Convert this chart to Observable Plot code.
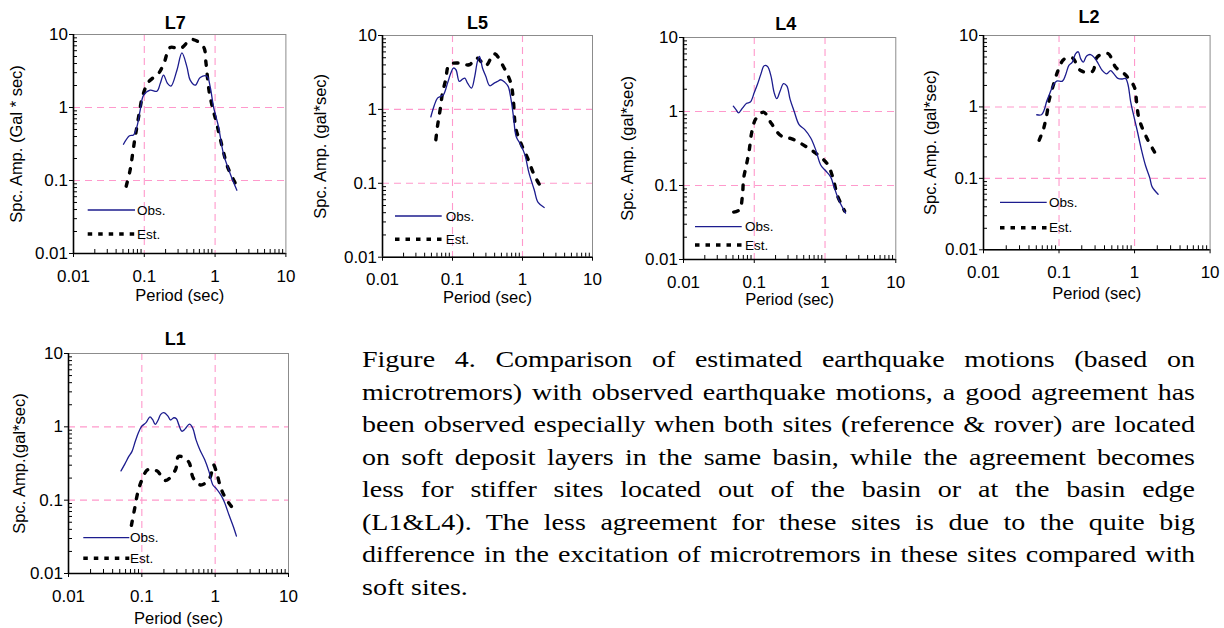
<!DOCTYPE html>
<html><head><meta charset="utf-8">
<script src="https://cdn.jsdelivr.net/npm/d3@7"></script>
<script src="https://cdn.jsdelivr.net/npm/@observablehq/plot@0.6"></script>
<style>
html,body{margin:0;padding:0;background:#fff}
body{width:1224px;height:628px;position:relative;overflow:hidden;font-family:"Liberation Sans",Arial,sans-serif}
.panel{position:absolute}
.panel svg{overflow:visible;background:transparent}
#overlay{position:absolute;left:0;top:0;pointer-events:none}
#caption{position:absolute;left:362px;top:344px;width:833px;font-family:"Liberation Serif","Times New Roman",serif;font-size:28px;line-height:32.5px;color:#000}
#caption div{text-align:justify;text-align-last:justify;white-space:nowrap;transform:scaleY(0.8);transform-origin:50% 50%}
#caption div.last{text-align:left;text-align-last:left}
</style>
</head><body>
<div id="caption"></div>
<script>
// ---------- tick values / labels ----------
const periodTicks = [0.01, 0.1, 1, 10];
const periodTickLabels = ["0.01", "0.1", "1", "10"];
const ampTicks = [0.01, 0.1, 1, 10];
const ampTickLabels = ["0.01", "0.1", "1", "10"];
const gridValues = [0.1, 1];
const seriesNames = ["Obs.", "Est."];
const panelTitles = ["L7", "L5", "L4", "L2", "L1"];
const yLabels = ["Spc. Amp. (Gal * sec)", "Spc. Amp. (gal*sec)", "Spc. Amp. (gal*sec)", "Spc. Amp. (gal*sec)", "Spc. Amp.(gal*sec)"];
const xLabel = "Period (sec)";

// ---------- data: L7 ----------
const L7_obs_period = [0.0508,0.0618,0.0703,0.0785,0.0875,0.0975,0.121,0.151,0.168,0.187,0.213,0.238,0.289,0.34,0.40,0.445,0.524,0.616,0.766,0.853,0.95,1.12,1.31,1.63,2.03];
const L7_obs_amp    = [0.314,0.41,0.42,0.54,0.92,1.47,1.73,1.67,2.13,2.77,2.13,1.96,3.24,5.6,3.6,2.37,2.02,2.58,2.69,1.91,1.02,0.54,0.234,0.125,0.0736];
const L7_est_period = [0.0555,0.063,0.068,0.073,0.0785,0.0855,0.094,0.115,0.159,0.191,0.232,0.321,0.47,0.686,0.741,0.78,0.826,0.919,1.04,1.18,1.31,1.50,1.92];
const L7_est_amp    = [0.0835,0.138,0.222,0.356,0.54,0.87,1.40,2.24,2.93,4.13,6.64,6.42,8.55,6.76,4.21,2.6,1.64,1.0,0.635,0.376,0.247,0.154,0.0927];

// ---------- data: L5 ----------
const L5_obs_period = [0.049,0.0547,0.061,0.068,0.0743,0.085,0.0947,0.103,0.112,0.125,0.139,0.15,0.164,0.187,0.208,0.227,0.243,0.268,0.299,0.341,0.394,0.44,0.49,0.56,0.624,0.681,0.743,0.812,0.946,1.08,1.24,1.47,1.67,2.04];
const L5_obs_amp    = [0.79,1.12,1.42,1.50,1.58,2.27,3.10,3.63,3.44,2.39,2.57,2.65,2.27,1.94,2.80,4.46,5.22,3.63,2.80,2.09,2.27,2.39,2.52,2.32,2.05,1.42,0.80,0.43,0.33,0.244,0.137,0.0818,0.055,0.047];
const L5_est_period = [0.0578,0.061,0.0667,0.072,0.080,0.0896,0.12,0.173,0.223,0.299,0.394,0.547,0.681,0.736,0.80,0.946,1.18,1.47,1.93];
const L5_est_amp    = [0.389,0.589,1.0,1.66,2.52,4.02,4.24,4.02,4.95,3.90,5.66,3.63,2.27,1.42,0.56,0.35,0.22,0.13,0.082];

// ---------- data: L4 ----------
const L4_obs_period = [0.0506,0.0552,0.060,0.0685,0.078,0.088,0.1,0.111,0.124,0.138,0.154,0.172,0.191,0.208,0.232,0.259,0.288,0.321,0.366,0.43,0.517,0.628,0.739,0.869,1.02,1.20,1.34,1.57,1.95];
const L4_obs_amp    = [1.18,1.06,0.96,1.12,1.29,1.34,1.80,2.33,3.20,4.15,4.06,3.03,1.80,1.49,1.89,2.38,2.22,1.46,1.01,0.665,0.569,0.438,0.303,0.189,0.158,0.131,0.096,0.063,0.0424];
const L4_est_period = [0.0512,0.062,0.0678,0.0708,0.078,0.085,0.0917,0.105,0.135,0.175,0.238,0.347,0.535,0.739,1.08,1.31,1.49,1.89];
const L4_est_amp    = [0.0437,0.047,0.070,0.125,0.195,0.303,0.512,0.794,0.98,0.686,0.471,0.424,0.337,0.273,0.195,0.121,0.074,0.0452];

// ---------- data: L2 ----------
const L2_obs_period = [0.0507,0.0585,0.0634,0.0688,0.076,0.0841,0.093,0.111,0.122,0.135,0.150,0.166,0.180,0.193,0.21,0.232,0.262,0.296,0.331,0.374,0.427,0.482,0.533,0.602,0.688,0.76,0.817,0.885,0.98,1.08,1.24,1.40,1.59,1.71,2.05];
const L2_obs_amp    = [0.777,0.777,0.896,1.21,1.58,2.02,2.30,2.30,2.80,3.81,4.25,5.59,5.91,4.75,4.25,5.18,5.41,4.85,4.02,3.23,2.90,3.23,2.90,2.51,2.46,2.51,2.08,1.21,0.736,0.475,0.246,0.15,0.102,0.076,0.06];
const L2_est_period = [0.0545,0.062,0.0688,0.0738,0.0841,0.097,0.116,0.150,0.193,0.276,0.321,0.445,0.561,0.76,1.0,1.06,1.14,1.33,1.59,2.0];
const L2_est_amp    = [0.341,0.485,0.777,1.23,2.02,3.23,4.64,4.85,3.23,3.13,5.01,5.59,3.61,2.80,1.87,1.21,0.697,0.449,0.306,0.202];

// ---------- data: L1 ----------
const L1_obs_period = [0.052,0.0588,0.0664,0.0735,0.0815,0.0903,0.1,0.114,0.129,0.14,0.152,0.167,0.181,0.2,0.227,0.246,0.273,0.296,0.318,0.352,0.39,0.446,0.493,0.547,0.618,0.721,0.824,0.931,1.03,1.20,1.33,1.55,1.81,1.95];
const L1_obs_amp    = [0.251,0.313,0.395,0.463,0.635,0.845,1.02,1.14,1.37,1.26,1.08,1.24,1.48,1.56,1.40,1.24,1.33,1.29,1.08,0.871,0.938,1.09,0.969,0.67,0.488,0.355,0.245,0.161,0.145,0.117,0.095,0.0622,0.0408,0.0323];
const L1_est_period = [0.0721,0.0798,0.0885,0.1,0.12,0.16,0.211,0.287,0.318,0.432,0.504,0.637,0.84,0.95,1.05,1.20,1.40,1.91];
const L1_est_amp    = [0.0453,0.0768,0.130,0.188,0.259,0.251,0.185,0.259,0.395,0.337,0.199,0.161,0.199,0.303,0.233,0.145,0.105,0.069];

const captionLines = [
  "Figure 4. Comparison of estimated earthquake motions (based on",
  "microtremors) with observed earthquake motions, a good agreement has",
  "been observed especially when both sites (reference & rover) are located",
  "on soft deposit layers in the same basin, while the agreement becomes",
  "less for stiffer sites located out of the basin or at the basin edge",
  "(L1&L4). The less agreement for these sites is due to the quite big",
  "difference in the excitation of microtremors in these sites compared with",
  "soft sites."
];

// ---------- layout (page pixels of each plot frame) ----------
const layout = [
  {L:73.3, R:285.7, T:34.3, B:253.3, titleX:175, titleY:23.3, ylabX:17, xlabY:295.5, xTickGap:16,
   leg:{x1:87.7, x2:135, yObs:210, yEst:234, tx:137}},
  {L:381.7, R:591.7, T:35, B:256.7, titleX:476.7, titleY:22.5, ylabX:320, xlabY:297.5, xTickGap:16,
   leg:{x1:395, x2:441.7, yObs:216, yEst:239.3, tx:445.7}},
  {L:682.7, R:895, T:37.3, B:259.3, titleX:785, titleY:24, ylabX:627.3, xlabY:300, xTickGap:16,
   leg:{x1:695, x2:741.7, yObs:226.7, yEst:245, tx:745}},
  {L:982.7, R:1209.3, T:35, B:249.3, titleX:1088.3, titleY:16.5, ylabX:930, xlabY:293.5, xTickGap:16,
   leg:{x1:1000, x2:1046.7, yObs:202.3, yEst:227.7, tx:1049}},
  {L:68.3, R:288.3, T:353.3, B:573.3, titleX:175, titleY:339, ylabX:20, xlabY:618.5, xTickGap:16,
   leg:{x1:83.3, x2:129.3, yObs:537.7, yEst:558.3, tx:130}}
];
const seriesData = [
  [L7_obs_period, L7_obs_amp, L7_est_period, L7_est_amp],
  [L5_obs_period, L5_obs_amp, L5_est_period, L5_est_amp],
  [L4_obs_period, L4_obs_amp, L4_est_period, L4_est_amp],
  [L2_obs_period, L2_obs_amp, L2_est_period, L2_est_amp],
  [L1_obs_period, L1_obs_amp, L1_est_period, L1_est_amp]
];

const OBS_COLOR = "#1c1c8e";
const GRID_COLOR = "#ff99cc";
const domain = [periodTicks[0], periodTicks[periodTicks.length - 1]];
const minor = [];
for (const d of [0.01, 0.1, 1]) for (let k = 2; k <= 9; k++) minor.push(+(k * d).toPrecision(3));

const mL = 70, mT = 30, mR = 12, mB = 60;

layout.forEach((c, i) => {
  const [op, oa, ep, ea] = seriesData[i];
  const obs = op.map((p, j) => ({p, a: oa[j]}));
  const est = ep.map((p, j) => ({p, a: ea[j]}));
  const W = c.R - c.L, H = c.B - c.T;
  const chart = Plot.plot({
    width: W + mL + mR, height: H + mT + mB,
    marginLeft: mL, marginTop: mT, marginRight: mR, marginBottom: mB,
    x: {type: "log", domain},
    y: {type: "log", domain},
    style: {fontFamily: "'Liberation Sans', Arial, sans-serif", fontSize: "17px", color: "#000", background: "transparent", overflow: "visible"},
    marks: [
      Plot.ruleX(gridValues, {stroke: GRID_COLOR, strokeWidth: 1.1, strokeDasharray: "7,5"}),
      Plot.ruleY(gridValues, {stroke: GRID_COLOR, strokeWidth: 1.1, strokeDasharray: "7,5"}),
      Plot.frame({stroke: "#8c8c8c", strokeWidth: 1}),
      Plot.ruleX(minor, {insetTop: H - 4, stroke: "#000", strokeWidth: 1}),
      Plot.ruleY(minor, {insetRight: W - 4, stroke: "#000", strokeWidth: 1}),
      Plot.axisX({ticks: periodTicks, tickFormat: d => periodTickLabels[periodTicks.indexOf(d)], tickSize: 4, tickPadding: c.xTickGap - 4, label: null, fontSize: 17}),
      Plot.axisY({ticks: ampTicks, tickFormat: d => ampTickLabels[ampTicks.indexOf(d)], tickSize: 4, tickPadding: 1.5, label: null, fontSize: 17}),
      Plot.ruleX([domain[0]], {stroke: "#000", strokeWidth: 1.6}),
      Plot.ruleY([domain[0]], {stroke: "#000", strokeWidth: 1.6}),
      Plot.line(est, {x: "p", y: "a", stroke: "#000", strokeWidth: 3.4, strokeDasharray: "4.5,9", curve: "catmull-rom"}),
      Plot.line(obs, {x: "p", y: "a", stroke: OBS_COLOR, strokeWidth: 1.3, curve: "catmull-rom"}),
      Plot.text([panelTitles[i]], {frameAnchor: "top", dx: c.titleX - (c.L + c.R) / 2, dy: c.titleY - c.T, fontWeight: "bold", fontSize: 18, lineAnchor: "middle"}),
      Plot.text([yLabels[i]], {frameAnchor: "left", rotate: -90, dx: c.ylabX - c.L, fontSize: 16.5, lineAnchor: "middle", textAnchor: "middle"}),
      Plot.text([xLabel], {frameAnchor: "bottom", dy: c.xlabY - c.B, fontSize: 16.5, lineAnchor: "middle"})
    ]
  });
  const wrap = document.createElement("div");
  wrap.className = "panel";
  wrap.style.left = (c.L - mL) + "px";
  wrap.style.top = (c.T - mT) + "px";
  wrap.appendChild(chart);
  document.body.appendChild(wrap);
});

// ---------- legends (overlay) ----------
const ov = d3.select("body").append("svg").attr("id", "overlay").attr("width", 1224).attr("height", 628);
layout.forEach(c => {
  const g = c.leg;
  ov.append("line").attr("x1", g.x1).attr("x2", g.x2).attr("y1", g.yObs).attr("y2", g.yObs)
    .attr("stroke", OBS_COLOR).attr("stroke-width", 1.3);
  ov.append("line").attr("x1", g.x1).attr("x2", g.x2).attr("y1", g.yEst).attr("y2", g.yEst)
    .attr("stroke", "#000").attr("stroke-width", 3.4).attr("stroke-dasharray", "4.5,6");
  [[seriesNames[0], g.yObs], [seriesNames[1], g.yEst]].forEach(([t, y]) => {
    ov.append("text").attr("x", g.tx).attr("y", y).attr("dy", "0.35em")
      .attr("font-family", "'Liberation Sans', Arial, sans-serif").attr("font-size", 13.5).text(t);
  });
});

// ---------- caption ----------
const cap = document.getElementById("caption");
captionLines.forEach((t, i) => {
  const d = document.createElement("div");
  d.textContent = t;
  if (i === captionLines.length - 1) d.className = "last";
  cap.appendChild(d);
});
</script>
</body></html>
